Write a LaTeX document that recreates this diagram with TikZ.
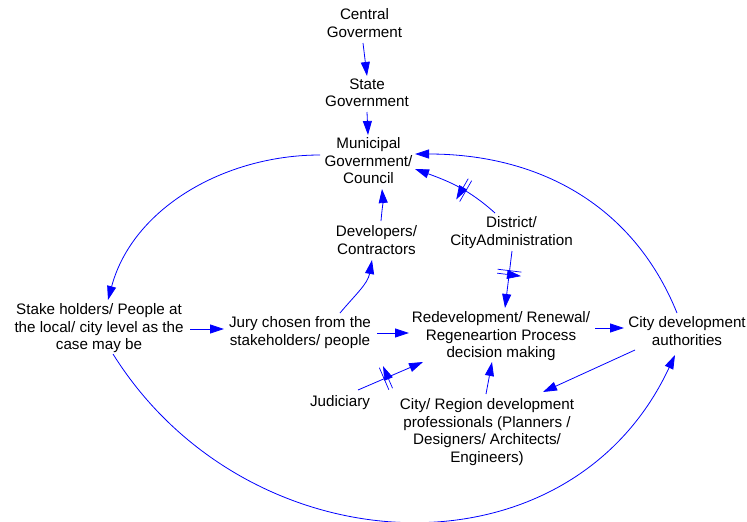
\documentclass[tikz,border=0pt]{standalone}
\usepackage{fontspec}
\setmainfont{Liberation Sans}
\usetikzlibrary{arrows.meta,decorations.markings}
\definecolor{linkblue}{RGB}{0,0,255}
\begin{document}
\begin{tikzpicture}[x=1pt,y=1pt,
  lbl/.style={font=\fontsize{15.2}{17.7}\selectfont, align=center, inner sep=1pt,
    execute at begin node=\strut, execute at end node=\strut},
  link/.style={draw=linkblue, line width=0.8pt, -{Triangle[length=14pt,width=9pt]}},
  delay/.style={postaction={decorate},
    decoration={markings, mark=at position #1 with {
      \draw[linkblue, line width=0.7pt] (-2pt,-12pt) -- (-2pt,12pt) (2pt,-12pt) -- (2pt,12pt);}}}
]
\useasboundingbox (0,0) rectangle (747,-522);

% variables
\node[lbl] (central)    at (364.5,-25.35) {Central\\Goverment};
\node[lbl] (state)      at (367,-95.35)   {State\\Government};
\node[lbl] (municipal)  at (368.5,-163.15) {Municipal\\Government/\\Council};
\node[lbl] (developers) at (376.5,-242.3)  {Developers/\\Contractors};
\node[lbl] (district)   at (511.5,-233.3)  {District/\\CityAdministration};
\node[lbl] (stake)      at (99,-329.15)    {Stake holders/ People at\\the local/ city level as the\\case may be};
\node[lbl] (jury)       at (300,-333.8)    {Jury chosen from the\\stakeholders/ people};
\node[lbl] (redev)      at (501,-337.15)   {Redevelopment/ Renewal/\\Regeneartion Process\\decision making};
\node[lbl] (citydev)    at (687,-333.3)    {City development\\authorities};
\node[lbl] (judiciary)  at (340,-403.45)   {Judiciary};
\node[lbl] (prof)       at (487,-433)      {City/ Region development\\professionals (Planners /\\Designers/ Architects/\\Engineers)};

% straight links
\draw[link] ([shift={(-1.5,-17.65)}]central.center) -- ([shift={(0,19.35)}]state.center);
\draw[link] ([shift={(0,-16.65)}]state.center) -- ([shift={(-0.5,28.15)}]municipal.center);
\draw[link] ([shift={(91,0.15)}]stake.center) -- ([shift={(-76,4.8)}]jury.center);
\draw[link] ([shift={(77,0.8)}]jury.center) -- ([shift={(-92,4.15)}]redev.center);
\draw[link] ([shift={(94,9.15)}]redev.center) -- ([shift={(-63,5.3)}]citydev.center);
\draw[link] ([shift={(-52,-16.7)}]citydev.center) -- ([shift={(56,41)}]prof.center);
\draw[link] ([shift={(-1,39)}]prof.center) -- ([shift={(-9,-24.85)}]redev.center);
\draw[link, delay=0.43] ([shift={(18,13.45)}]judiciary.center) -- ([shift={(-78,-24.85)}]redev.center);
\draw[link, delay=0.38] ([shift={(0.5,-17.7)}]district.center) -- ([shift={(4,29.15)}]redev.center);

% curved links
\draw[link] ([shift={(4.5,21.3)}]developers.center) to[out=85,in=-85] ([shift={(13.5,-25.85)}]municipal.center);
\draw[link] ([shift={(40,20.8)}]jury.center) to[out=50,in=-100] ([shift={(-4.5,-17.7)}]developers.center);
\draw[link, delay=0.42] ([shift={(-16.5,20.3)}]district.center) to[out=138,in=-20] ([shift={(46.5,-5.85)}]municipal.center);
\draw[link] ([shift={(-10,20.3)}]citydev.center) to[out=112,in=0] ([shift={(46.5,9.15)}]municipal.center);
\draw[link] ([shift={(-48.5,8.15)}]municipal.center) to[out=180,in=75,looseness=0.95] ([shift={(9,29.15)}]stake.center);
\draw[link] ([shift={(14,-24.85)}]stake.center) to[out=-58,in=-115,looseness=1.15] ([shift={(-12,-21.7)}]citydev.center);
\end{tikzpicture}
\end{document}
